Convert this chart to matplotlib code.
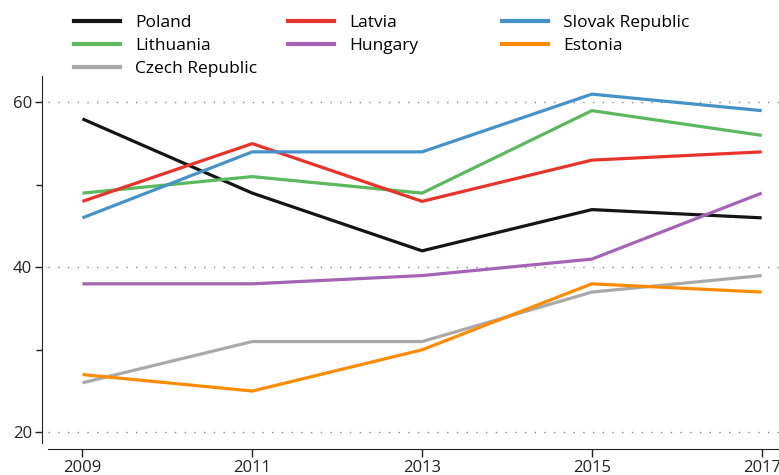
import matplotlib
matplotlib.use("Agg")
import matplotlib.pyplot as plt
from matplotlib.lines import Line2D
from matplotlib.ticker import MultipleLocator

years = [2009, 2011, 2013, 2015, 2017]
poland = [58, 49, 42, 47, 46]
lithuania = [49, 51, 49, 59, 56]
czech = [26, 31, 31, 37, 39]
latvia = [48, 55, 48, 53, 54]
hungary = [38, 38, 39, 41, 49]
slovak = [46, 54, 54, 61, 59]
estonia = [27, 25, 30, 38, 37]

series = [
    ("Poland", poland, "#141414"),
    ("Lithuania", lithuania, "#5cb85c"),
    ("Czech Republic", czech, "#a9a9a9"),
    ("Latvia", latvia, "#e8332a"),
    ("Hungary", hungary, "#a463b5"),
    ("Slovak Republic", slovak, "#4592c9"),
    ("Estonia", estonia, "#ff8c00"),
]
# legend columns, as in the original layout
legend_cols = [["Poland", "Lithuania", "Czech Republic"],
               ["Latvia", "Hungary"],
               ["Slovak Republic", "Estonia"]]

plt.rcParams["font.family"] = ["Open Sans", "DejaVu Sans"]

W, H = 779, 475
fig = plt.figure(figsize=(W / 100, H / 100), dpi=100)
ax = fig.add_axes([48 / W, 32 / H, 731 / W, 367 / H])

colors = {}
for name, vals, col in series:
    ax.plot(years, vals, color=col, lw=2.3, solid_capstyle="butt")
    colors[name] = col

ax.set_xlim(2008.594, 2017.204)
ax.set_ylim(18.7, 63.2)
ax.set_xticks(years)
ax.yaxis.set_major_locator(MultipleLocator(20))
ax.yaxis.set_minor_locator(MultipleLocator(10))
ax.grid(axis="y", which="major", color="#888888", lw=1, linestyle=(0, (1, 6)))

for s in ["top", "right"]:
    ax.spines[s].set_visible(False)
ax.spines["left"].set_position(("outward", 4.5))
ax.spines["bottom"].set_position(("outward", 4.5))
ax.spines["left"].set_color("#222222")
ax.spines["bottom"].set_color("#222222")
ax.tick_params(axis="both", which="both", colors="#222222", labelsize=12, width=1)
ax.tick_params(axis="x", length=6, pad=2)
ax.tick_params(axis="y", which="major", length=5, pad=2)
ax.tick_params(axis="y", which="minor", length=4)

for x0, names in zip([74, 288, 502], legend_cols):
    handles = [Line2D([], [], color=colors[n], lw=3) for n in names]
    fig.legend(handles, names, loc="upper left", bbox_to_anchor=(x0 / W, 1 - 15 / H),
               frameon=False, fontsize=12.5, handlelength=2.65, handletextpad=0.85,
               labelspacing=0.4, borderpad=0, borderaxespad=0)

fig.savefig("out.png", dpi=100)
